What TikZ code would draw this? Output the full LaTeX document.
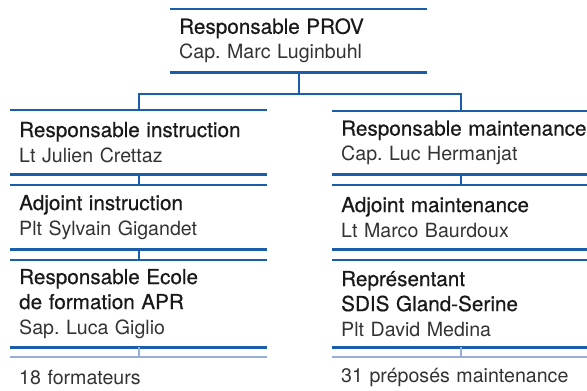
\documentclass[tikz,border=0pt]{standalone}
\usepackage{fontspec}
\setmainfont{TeX Gyre Heros}
\newfontfamily\headfont{TeX Gyre Heros}[FakeBold=0.5]
\definecolor{provblue}{HTML}{1A5DAA}
\definecolor{provlight}{HTML}{98ADDB}
\newcommand\role[1]{\mbox{\headfont\fontsize{20.7}{25}\selectfont\color{black!90}#1}}
\frenchspacing
\begin{document}
\begin{tikzpicture}[x=1pt,y=-1pt,
  post/.style={anchor=north west,text width=239pt,inner xsep=9pt,inner ysep=0pt,
    align=left,font=\fontsize{19.6}{25}\selectfont\frenchspacing,text=black!80,minimum height=#1},
  post/.default=64pt,
  rule/.style={provblue,line width=2.2pt},
  softrule/.style={provlight,line width=2.2pt}]
\useasboundingbox (0,0) rectangle (587,391);
% head of the unit
\node[post=63pt] (prov) at (170,9) {\role{Responsable PROV}\\Cap. Marc Luginbuhl};
% instruction side
\node[post] (instr) at (10,110) {\role{Responsable instruction}\\Lt Julien Crettaz};
\node[post] (adjinstr) at (10,185) {\role{Adjoint instruction}\\Plt Sylvain Gigandet};
\node[post=87pt] (ecole) at (10,260) {\role{Responsable Ecole}\\\role{de formation APR}\\Sap. Luca Giglio};
\node[post=40pt] (form) at (10,357) {18 formateurs};
% maintenance side
\node[post=63pt] (maint) at (332,111) {\role{Responsable maintenance}\\Cap. Luc Hermanjat};
\node[post] (adjmaint) at (332,185) {\role{Adjoint maintenance}\\Lt Marco Baurdoux};
\node[post=87pt] (sdis) at (332,260) {\role{Représentant}\\\role{SDIS Gland-Serine}\\Plt David Medina};
\node[post=40pt] (prep) at (332,357) {31 préposés maintenance};

\foreach \n in {prov,instr,adjinstr,ecole,maint,adjmaint,sdis}
\draw[rule] (\n.north west) -- (\n.north east) (\n.south west) -- (\n.south east);
\foreach \n in {form,prep}
\draw[softrule] (\n.north west) -- (\n.north east);

% links
\coordinate (split) at (prov.south |- 0,94);
\draw[rule] (prov.south) -- (split) -| (instr.north);
\draw[rule] (split) -| (maint.north);
\draw[rule] (instr.south) -- (adjinstr.north);
\draw[rule] (adjinstr.south) -- (ecole.north);
\draw[rule] (maint.south) -- (adjmaint.north);
\draw[softrule] (ecole.south) -- (form.north);
\draw[softrule] (sdis.south) -- (prep.north);
\end{tikzpicture}
\end{document}
